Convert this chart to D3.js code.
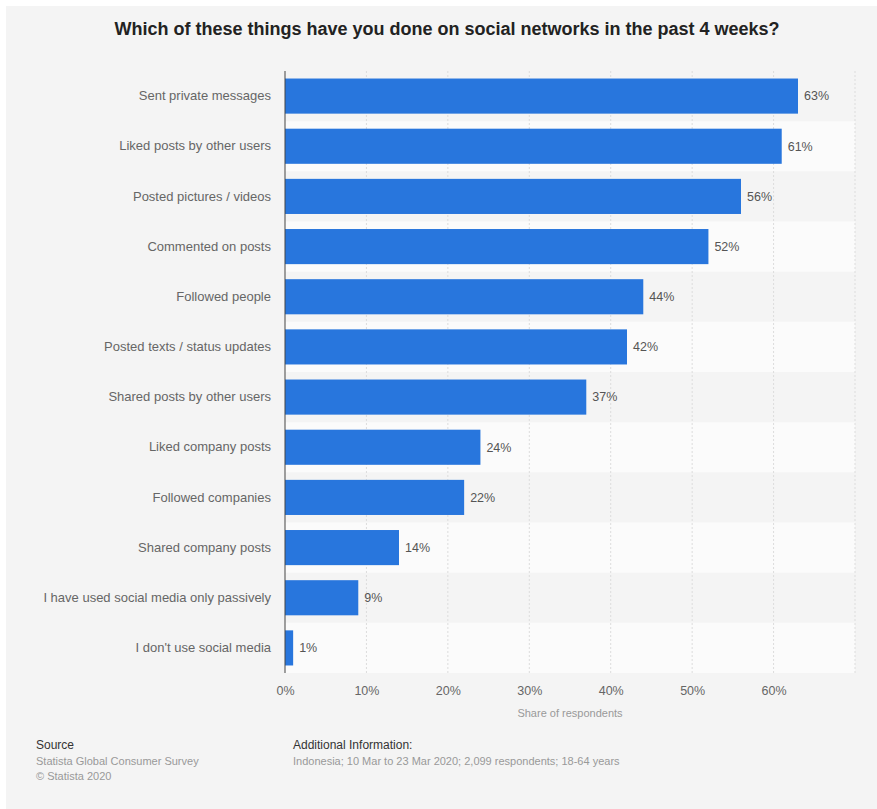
<!DOCTYPE html>
<html>
<head>
<meta charset="utf-8">
<script src="https://cdn.jsdelivr.net/npm/d3@7"></script>
<style>
	html, body { margin: 0; padding: 0; background: #fff; }
	svg { display: block; font-family: "Liberation Sans", Arial, sans-serif; }
</style>
</head>
<body>
<svg width="877" height="809"></svg>
<script>
// data.........................................................................

var categories = [
	"Sent private messages",
	"Liked posts by other users",
	"Posted pictures / videos",
	"Commented on posts",
	"Followed people",
	"Posted texts / status updates",
	"Shared posts by other users",
	"Liked company posts",
	"Followed companies",
	"Shared company posts",
	"I have used social media only passively",
	"I don't use social media"
];
var values = [63, 61, 56, 52, 44, 42, 37, 24, 22, 14, 9, 1];
var xTicks = [0, 10, 20, 30, 40, 50, 60];
var gridTicks = [10, 20, 30, 40, 50, 60, 70];

var title = "Which of these things have you done on social networks in the past 4 weeks?",
	axisTitle = "Share of respondents",
	sourceLines = ["Statista Global Consumer Survey", "\u00a9 Statista 2020"],
	infoLines = ["Indonesia; 10 Mar to 23 Mar 2020; 2,099 respondents; 18-64 years"];

// layout.......................................................................

var svg = d3.select("svg"),
	plotLeft = 285, plotRight = 855, plotTop = 71, plotBottom = 673;

var x = d3.scaleLinear().domain([0, 70]).range([plotLeft, plotRight]);
var y = d3.scaleBand().domain(categories).range([plotTop, plotBottom])
	.paddingInner(0.3).paddingOuter(0.15);

// panel
svg.append("rect")
	.attr("x", 6).attr("y", 6)
	.attr("width", 877 - 6).attr("height", 809 - 6)
	.attr("fill", "#f4f4f4");

// title
svg.append("text")
	.attr("x", 447).attr("y", 35)
	.attr("text-anchor", "middle")
	.attr("font-size", 18).attr("font-weight", "bold")
	.attr("fill", "#222")
	.text(title);

// alternating row stripes
var step = y.step();
svg.append("g").attr("class", "stripes")
	.selectAll("rect")
	.data(categories.filter(function(d, i) { return i % 2 == 1; }))
	.enter().append("rect")
		.attr("x", plotLeft)
		.attr("y", function(d) { return y(d) - y.paddingInner() * step / 2; })
		.attr("width", plotRight - plotLeft)
		.attr("height", step)
		.attr("fill", "#fbfbfb");

// gridlines
svg.append("g").attr("class", "grid")
	.selectAll("line")
	.data(gridTicks)
	.enter().append("line")
		.attr("x1", function(d) { return x(d); })
		.attr("x2", function(d) { return x(d); })
		.attr("y1", plotTop).attr("y2", plotBottom)
		.attr("stroke", "#dcdcdc")
		.attr("stroke-dasharray", "2,2");

// bars
svg.append("g").attr("class", "bars")
	.selectAll("rect")
	.data(values)
	.enter().append("rect")
		.attr("x", x(0))
		.attr("y", function(d, i) { return y(categories[i]); })
		.attr("width", function(d) { return x(d) - x(0); })
		.attr("height", y.bandwidth())
		.attr("fill", "#2876dd");

// value labels
svg.append("g").attr("class", "values")
	.selectAll("text")
	.data(values)
	.enter().append("text")
		.attr("x", function(d) { return x(d) + 6; })
		.attr("y", function(d, i) { return y(categories[i]) + y.bandwidth() / 2; })
		.attr("dy", "0.35em")
		.attr("font-size", 12.5)
		.attr("fill", "#555")
		.text(function(d) { return d + "%"; });

// y axis
var yAxis = svg.append("g")
	.attr("transform", "translate(" + plotLeft + ",0)")
	.call(d3.axisLeft(y).tickSize(0).tickPadding(14));
yAxis.select(".domain").attr("stroke", "#444").attr("d", "M0," + plotTop + "V" + plotBottom);
yAxis.selectAll("text").attr("font-size", 13).attr("fill", "#666")
	.attr("font-family", "'Liberation Sans', Arial, sans-serif");

// x axis
var xAxis = svg.append("g")
	.attr("transform", "translate(0," + plotBottom + ")")
	.call(d3.axisBottom(x).tickValues(xTicks).tickSize(0).tickPadding(13)
		.tickFormat(function(d) { return d + "%"; }));
xAxis.select(".domain").remove();
xAxis.selectAll("text").attr("font-size", 12.5).attr("fill", "#666")
	.attr("font-family", "'Liberation Sans', Arial, sans-serif");

svg.append("text")
	.attr("x", (plotLeft + plotRight) / 2).attr("y", 717)
	.attr("text-anchor", "middle")
	.attr("font-size", 11).attr("fill", "#999")
	.text(axisTitle);

// footer
svg.append("text")
	.attr("x", 36).attr("y", 749)
	.attr("font-size", 12).attr("fill", "#333")
	.text("Source");
svg.append("g").selectAll("text")
	.data(sourceLines)
	.enter().append("text")
		.attr("x", 36)
		.attr("y", function(d, i) { return 765 + i * 15; })
		.attr("font-size", 11).attr("fill", "#999")
		.text(function(d) { return d; });

svg.append("text")
	.attr("x", 293).attr("y", 749)
	.attr("font-size", 12).attr("fill", "#333")
	.text("Additional Information:");
svg.append("g").selectAll("text")
	.data(infoLines)
	.enter().append("text")
		.attr("x", 293)
		.attr("y", function(d, i) { return 765 + i * 15; })
		.attr("font-size", 11).attr("fill", "#999")
		.text(function(d) { return d; });
</script>
</body>
</html>
